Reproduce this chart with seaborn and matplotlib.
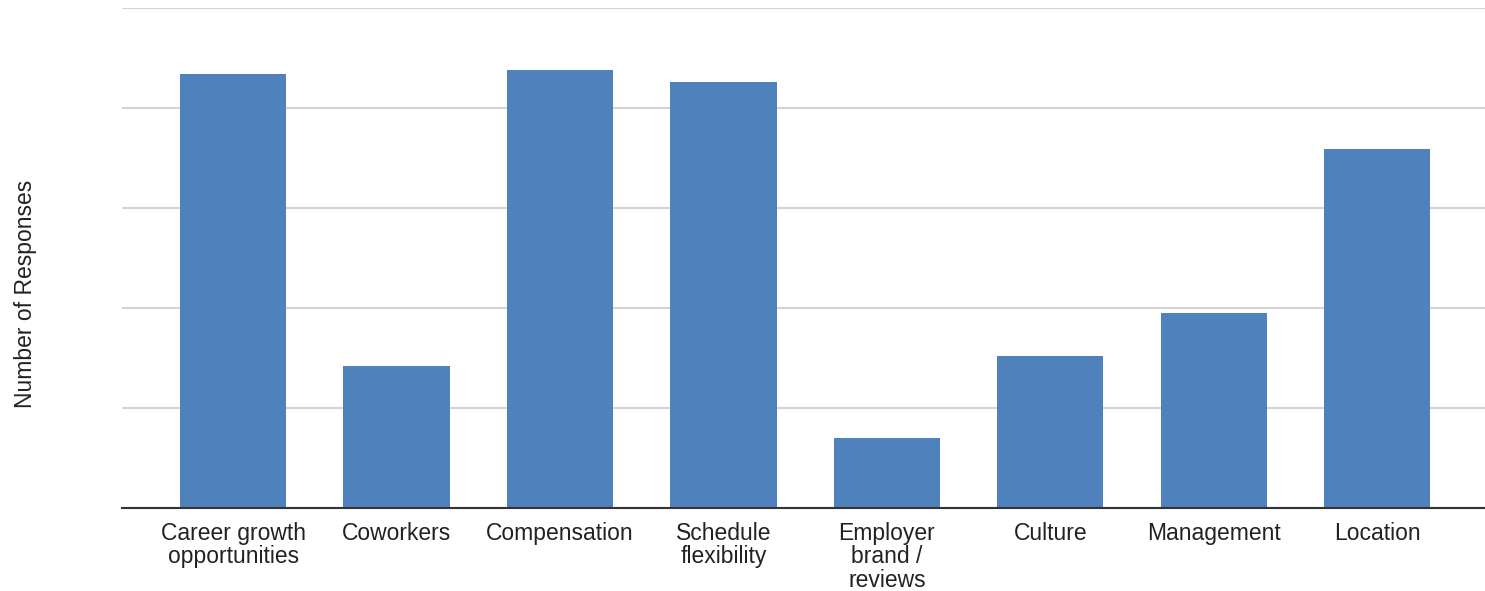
import matplotlib
matplotlib.use("Agg")
import matplotlib.pyplot as plt
import seaborn as sns
import pandas as pd

categories = ["Career growth\nopportunities", "Coworkers", "Compensation",
              "Schedule\nflexibility", "Employer\nbrand /\nreviews", "Culture",
              "Management", "Location"]
responses = [4.34, 1.42, 4.38, 4.26, 0.70, 1.52, 1.95, 3.59]
y_ticks = [0, 1, 2, 3, 4, 5]

sns.set_theme(style="white")
plt.rcParams["font.family"] = ["Liberation Sans", "DejaVu Sans"]

df = pd.DataFrame({"category": categories, "responses": responses})

fig = plt.figure(figsize=(14.85, 5.91), dpi=100)
ax = fig.add_axes([122/1485, 83/591, 1 - 122/1485, 500/591])

sns.barplot(data=df, x="category", y="responses", color="#4f81bd",
            saturation=1, width=0.65, linewidth=0, ax=ax, zorder=3)

ax.set_ylim(0, 5)
ax.set_yticks(y_ticks)
ax.set_yticklabels([])
ax.grid(axis="y", color="#d4d4d4", linewidth=1.5, zorder=0)
ax.set_axisbelow(True)
ax.set_xlim(-0.68, 7.66)

for s in ["top", "right", "left"]:
    ax.spines[s].set_visible(False)
ax.spines["bottom"].set_color("#333333")
ax.spines["bottom"].set_linewidth(1.5)
ax.spines["bottom"].set_zorder(4)

ax.tick_params(axis="x", length=0, pad=10, labelsize=16.5, labelcolor="#222222")
ax.tick_params(axis="y", length=0)
for lbl in ax.get_xticklabels():
    lbl.set_linespacing(1.03)

ax.set_xlabel("")
ax.set_ylabel("Number of Responses", fontsize=16.5, color="#222222")
ax.yaxis.set_label_coords(-0.0625, 0.428)

fig.savefig("out.png", dpi=100, facecolor="white")
